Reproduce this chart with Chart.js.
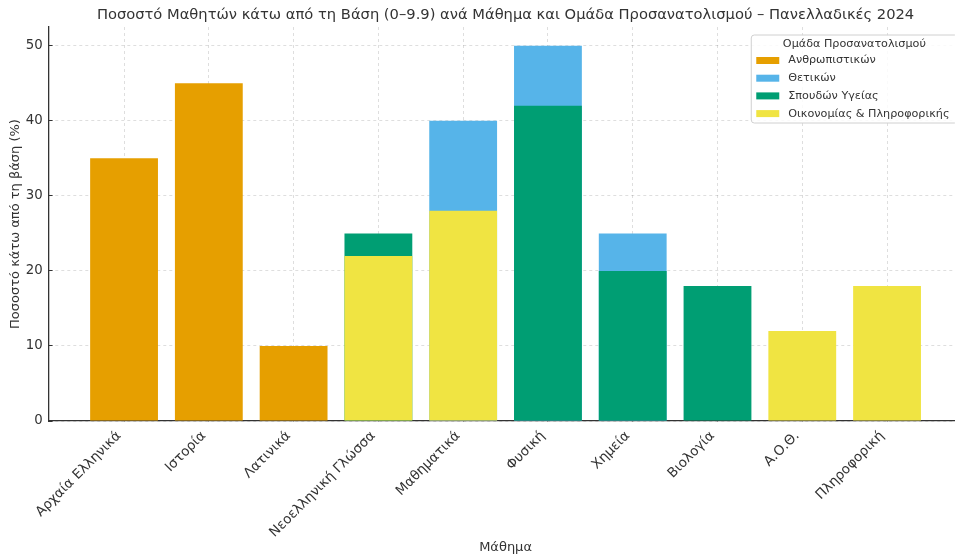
<!DOCTYPE html>
<html><head><meta charset="utf-8">
<script src="https://cdn.jsdelivr.net/npm/chart.js@4/dist/chart.umd.min.js"></script>
<style>
html,body{margin:0;padding:0;overflow:hidden;background:#fff;width:955px;height:557px}
#wrap{width:1011px;height:557px;position:relative}
</style>
</head><body><div id="wrap"><canvas id="c" width="1011" height="557"></canvas></div>
<script>
const categories = ['Αρχαία Ελληνικά','Ιστορία','Λατινικά','Νεοελληνική Γλώσσα','Μαθηματικά','Φυσική','Χημεία','Βιολογία','Α.Ο.Θ.','Πληροφορική'];
const groupNames = ['Ανθρωπιστικών','Θετικών','Σπουδών Υγείας','Οικονομίας & Πληροφορικής'];
const anthropistikon = [35, 45, 10, null, null, null, null, null, null, null];
const thetikon       = [null, null, null, null, 40, 50, 25, null, null, null];
const ygeias         = [null, null, null, 25, null, 42, 20, 18, null, null];
const oikonomias     = [null, null, null, 22, 28, null, null, null, 12, 18];
const yTickValues = [0, 10, 20, 30, 40, 50];
const titleText = 'Ποσοστό Μαθητών κάτω από τη Βάση (0–9.9) ανά Μάθημα και Ομάδα Προσανατολισμού – Πανελλαδικές 2024';
const yTitle = 'Ποσοστό κάτω από τη βάση (%)';
const xTitle = 'Μάθημα';
const legendTitle = 'Ομάδα Προσανατολισμού';

const groupColors = ['#E69F00', '#56B4E9', '#009E73', '#F0E442'];
const seriesList = [anthropistikon, thetikon, ygeias, oikonomias];
const FONT = "'DejaVu Sans', sans-serif";
const TXT = '#333333';

const toPoints = arr => arr.map((v, i) => (v === null ? null : {x: i, y: v})).filter(p => p);

const datasets = seriesList.map((arr, k) => ({
  label: groupNames[k],
  data: toPoints(arr),
  backgroundColor: groupColors[k],
  borderWidth: 0,
  grouped: false,
  order: seriesList.length - k,
  categoryPercentage: 0.8,
  barPercentage: 1.0
}));

const titleAndLegend = {
  id: 'titleAndLegend',
  afterDraw(chart) {
    const ctx = chart.ctx;
    const ca = chart.chartArea;
    ctx.save();
    ctx.font = '14.7px ' + FONT;
    ctx.fillStyle = TXT;
    ctx.textAlign = 'center';
    ctx.textBaseline = 'middle';
    ctx.fillText(titleText, (ca.left + ca.right) / 2, 15.5);
    ctx.font = '11.2px ' + FONT;
    let maxW = 0;
    chart.data.datasets.forEach(d => { maxW = Math.max(maxW, ctx.measureText(d.label).width); });
    const w = 37 + maxW + 8;
    const right = ca.right - 5;
    const left = right - w;
    const top = ca.top + 8;
    const h = 88;
    ctx.beginPath();
    ctx.roundRect(left, top, w, h, 3);
    ctx.fillStyle = 'rgba(255,255,255,0.85)';
    ctx.fill();
    ctx.strokeStyle = '#d0d0d0';
    ctx.lineWidth = 1;
    ctx.stroke();
    ctx.fillStyle = TXT;
    ctx.textAlign = 'center';
    ctx.fillText(legendTitle, left + w / 2, top + 9.5);
    ctx.textAlign = 'left';
    chart.data.datasets.forEach((d, i) => {
      const cy = top + 25.5 + i * 17.7;
      ctx.fillStyle = d.backgroundColor;
      ctx.fillRect(left + 5, cy - 3.5, 23, 7);
      ctx.fillStyle = TXT;
      ctx.fillText(d.label, left + 37, cy);
    });
    ctx.restore();
  }
};

new Chart(document.getElementById('c'), {
  type: 'bar',
  data: { datasets },
  options: {
    responsive: false,
    animation: false,
    devicePixelRatio: 1,
    layout: { padding: { left: 0, right: 48.5, top: 27, bottom: 0 } },
    plugins: {
      legend: { display: false },
      tooltip: { enabled: false },
      title: { display: false }
    },
    scales: {
      x: {
        type: 'linear',
        min: -0.89,
        max: 9.89,
        offset: false,
        z: 1,
        afterBuildTicks: s => { s.ticks = categories.map((_, i) => ({ value: i })); },
        afterFit: s => { s.height = 136; },
        ticks: {
          autoSkip: false,
          maxRotation: 45,
          minRotation: 45,
          color: TXT,
          padding: 11,
          labelOffset: -5,
          font: { family: FONT, size: 13.5 },
          callback: v => categories[v]
        },
        grid: { offset: false, color: 'rgba(0,0,0,0.13)', lineWidth: 1, drawTicks: true, tickLength: -4, tickColor: '#333' },
        border: { display: true, color: '#333', width: 1.3, dash: [3, 3] },
        title: { display: true, text: xTitle, color: TXT, font: { family: FONT, size: 13 }, padding: { top: 0, bottom: 2 } }
      },
      y: {
        min: 0,
        max: 52.5,
        z: 1,
        afterBuildTicks: s => { s.ticks = yTickValues.map(v => ({ value: v })); },
        afterFit: s => { s.width = 48.6; },
        ticks: { color: TXT, padding: 10, font: { family: FONT, size: 13.3 } },
        grid: { color: 'rgba(0,0,0,0.13)', lineWidth: 1, drawTicks: true, tickLength: -4, tickColor: '#333' },
        border: { display: true, color: '#333', width: 1.3, dash: [3, 3] },
        title: { display: true, text: yTitle, color: TXT, font: { family: FONT, size: 13 }, padding: { top: 7.5, bottom: 0 } }
      }
    }
  },
  plugins: [titleAndLegend]
});
</script>
</body></html>
